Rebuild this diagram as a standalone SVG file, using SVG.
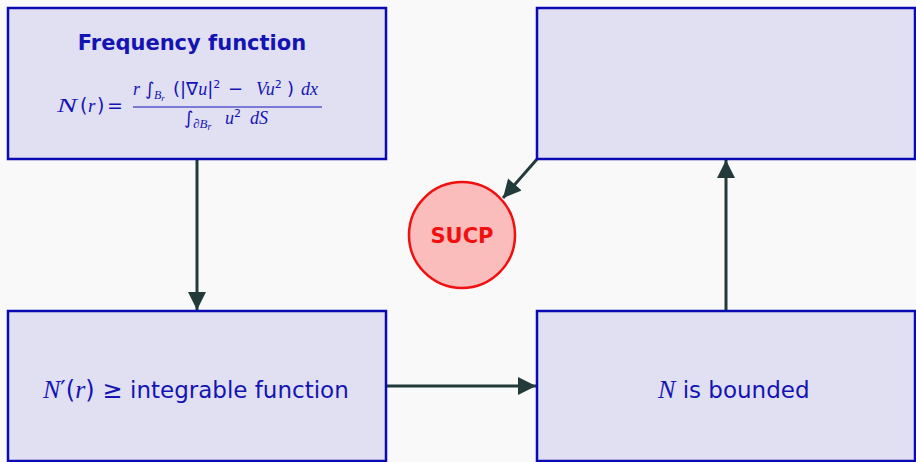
<svg xmlns="http://www.w3.org/2000/svg" width="916" height="462" viewBox="0 0 916 462">
<style>
.box{fill:#e1e0f3;stroke:#0a0ab4;stroke-width:2.5}
.t{font-family:"DejaVu Sans","Liberation Sans",sans-serif;font-style:normal;fill:#1414b4}
.m{font-family:"Liberation Serif","DejaVu Serif",serif;font-style:italic;fill:#1414b4}
.r{font-family:"DejaVu Sans",sans-serif;font-style:normal;fill:#1414b4}
.conn{stroke:#233a3b;stroke-width:3;fill:none}
</style>
<defs>
<marker id="ah" viewBox="0 0 10 10" refX="10" refY="5" markerWidth="7" markerHeight="6" markerUnits="strokeWidth" orient="auto">
<path d="M0,0 L10,5 L0,10 z" fill="#233a3b"/>
</marker>
</defs>
<rect width="916" height="462" fill="#f9f9f9"/>
<g id="connectors">
<line class="conn" x1="197" y1="159" x2="197" y2="310" marker-end="url(#ah)"/>
<line class="conn" x1="386" y1="386" x2="536" y2="386" marker-end="url(#ah)"/>
<line class="conn" x1="726" y1="311" x2="726" y2="160" marker-end="url(#ah)"/>
<line class="conn" x1="538" y1="158" x2="503" y2="198" marker-end="url(#ah)"/>
</g>
<g id="freq">
<rect class="box" x="8" y="8" width="378" height="151"/>
<text class="t" x="192" y="50" font-size="21" font-weight="bold" text-anchor="middle">Frequency function</text>
<text class="m" x="57" y="112" font-size="19" textLength="20" lengthAdjust="spacingAndGlyphs">N</text>
<text class="m" y="112" font-size="19"><tspan class="r" x="80">(</tspan><tspan x="88">r</tspan><tspan class="r" x="97">)</tspan><tspan class="r" x="107">=</tspan></text>
<text class="m" y="95" font-size="18"><tspan x="133">r</tspan><tspan class="r" x="145">∫</tspan><tspan x="154" dy="4" font-size="12">B</tspan><tspan dy="2" font-size="9">r</tspan><tspan class="r" x="173" y="95">(|∇</tspan><tspan>u</tspan><tspan class="r">|</tspan><tspan class="r" dy="-7" font-size="11">2</tspan><tspan class="r" x="228" y="95">−</tspan><tspan x="256">Vu</tspan><tspan class="r" dy="-7" font-size="11">2</tspan><tspan class="r" x="287" y="95">)</tspan><tspan x="301">dx</tspan></text>
<line x1="133" y1="107" x2="322" y2="107" stroke="#1414b4" stroke-width="1"/>
<text class="m" y="124" font-size="18"><tspan class="r" x="184">∫</tspan><tspan x="193" dy="4" font-size="13">∂B</tspan><tspan dy="2" font-size="10">r</tspan><tspan x="225" y="124">u</tspan><tspan class="r" dy="-7" font-size="11">2</tspan><tspan x="250" y="124">dS</tspan></text>
</g>
<g id="deriv">
<rect class="box" x="8" y="311" width="378" height="150"/>
<text class="m" x="43" y="398" font-size="26">N<tspan class="r" font-size="24">′(</tspan>r<tspan class="r" font-size="24">) ≥ </tspan><tspan class="t" font-size="23">integrable function</tspan></text>
</g>
<g id="bounded">
<rect class="box" x="537" y="311" width="378" height="150"/>
<text class="m" x="658" y="398" font-size="26">N<tspan class="t" font-size="23"> is bounded</tspan></text>
</g>
<g id="empty">
<rect class="box" x="537" y="8" width="378" height="151"/>
</g>
<g id="sucp">
<circle cx="462" cy="235" r="53" fill="#fbbcbc" stroke="#f01010" stroke-width="2.5"/>
<text x="462" y="243" font-family="DejaVu Sans,sans-serif" font-weight="bold" font-size="21" fill="#f01010" text-anchor="middle">SUCP</text>
</g>
</svg>
